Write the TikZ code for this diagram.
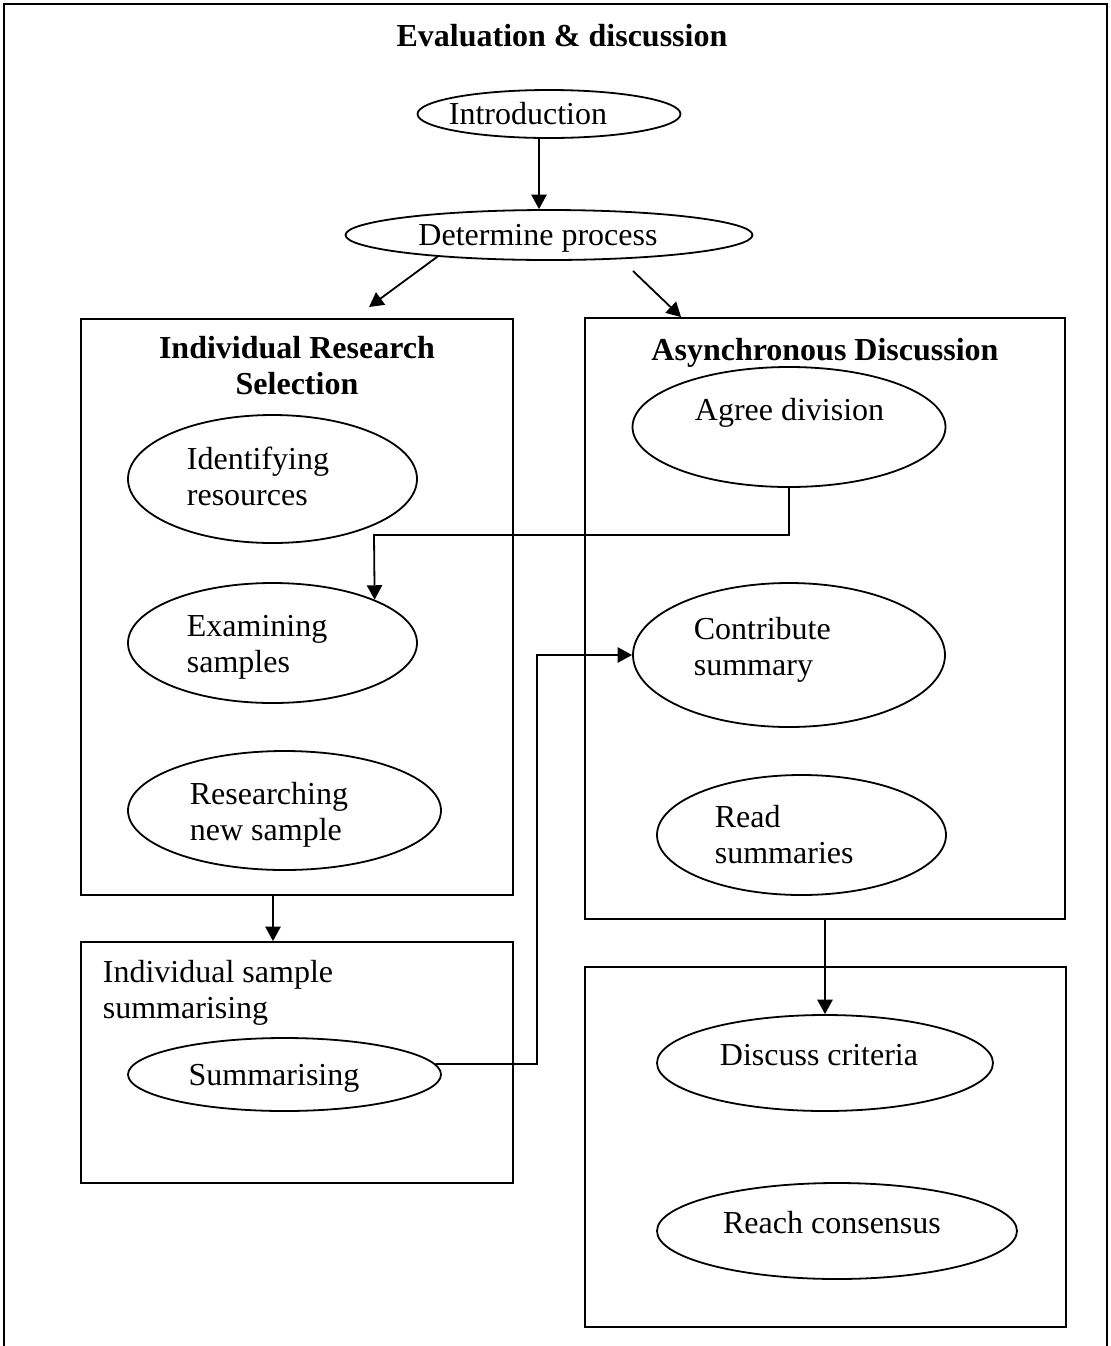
\documentclass[tikz,border=0pt]{standalone}
\usepackage{fontspec}
\setmainfont{Liberation Serif}
\usetikzlibrary{shapes.geometric,arrows.meta,calc}
\begin{document}
\begin{tikzpicture}[x=0.5pt,y=-0.5pt, line width=0.9pt,
  oval/.style={ellipse,draw,inner sep=0pt},
  frame/.style={rectangle,draw,inner sep=0pt},
  arr/.style={-{Triangle[length=7.2pt,width=7.6pt]}},
  lbl/.style={font=\fontsize{16}{18}\selectfont, inner sep=0pt},
  bold/.style={font=\fontsize{16}{18}\selectfont\bfseries, inner sep=0pt}]
\useasboundingbox (0,0) rectangle (1111,1346);
% outer frame (open at the bottom)
\draw[line width=1pt] (4,1346) -- (4,4) -- (1107,4) -- (1107,1346);
\node[bold,anchor=base] (title) at (562,46) {Evaluation \& discussion};

% top ellipses
\node[oval,minimum width=131.5pt,minimum height=24pt] (intro) at (549,114) {};
\node[lbl,anchor=base] (tintro) at (528,124) {Introduction};
\node[oval,minimum width=203.5pt,minimum height=25pt] (det) at (549,235) {};
\node[lbl,anchor=base] (tdet) at (538,245) {Determine process};

% boxes
\node[frame,minimum width=216pt,minimum height=288pt] (boxL) at (297,607) {};
\node[frame,minimum width=216pt,minimum height=120.5pt] (boxS) at (297,1062.5) {};
\node[frame,minimum width=240pt,minimum height=300.5pt] (boxR) at (825,618.5) {};
\node[frame,minimum width=240.5pt,minimum height=180pt] (boxB) at (825.5,1147) {};

% box titles
\node[bold,anchor=base] (tL1) at (297,358) {Individual Research};
\node[bold,anchor=base] (tL2) at (297,394) {Selection};
\node[bold,anchor=base] (tR) at (825,360) {Asynchronous Discussion};
\node[lbl,anchor=base west] (tS1) at (102,982) {Individual sample};
\node[lbl,anchor=base west] (tS2) at (102,1018) {summarising};

% left box ellipses
\node[oval,minimum width=144.5pt,minimum height=64pt] (ident) at (272.5,479) {};
\node[lbl,anchor=base west] (tident1) at (186,469) {Identifying};
\node[lbl,anchor=base west] (tident2) at (186,505) {resources};
\node[oval,minimum width=144.5pt,minimum height=60pt] (exam) at (272.5,643) {};
\node[lbl,anchor=base west] (texam1) at (186,636) {Examining};
\node[lbl,anchor=base west] (texam2) at (186,672) {samples};
\node[oval,minimum width=156.5pt,minimum height=59.5pt] (resrch) at (284.5,810.5) {};
\node[lbl,anchor=base west] (tres1) at (189,804) {Researching};
\node[lbl,anchor=base west] (tres2) at (189,840) {new sample};
\node[oval,minimum width=156.5pt,minimum height=36.5pt] (summ) at (284.5,1074.5) {};
\node[lbl,anchor=base] (tsumm) at (274,1085) {Summarising};

% right box ellipses
\node[oval,minimum width=156.5pt,minimum height=60pt] (agree) at (789,427) {};
\node[lbl,anchor=base west] (tagree) at (694,420) {Agree division};
\node[oval,minimum width=156pt,minimum height=72pt] (contrib) at (789,655) {};
\node[lbl,anchor=base west] (tcon1) at (693,639) {Contribute};
\node[lbl,anchor=base west] (tcon2) at (693,675) {summary};
\node[oval,minimum width=144.5pt,minimum height=60pt] (read) at (801.5,835) {};
\node[lbl,anchor=base west] (tread1) at (714,827) {Read};
\node[lbl,anchor=base west] (tread2) at (714,863) {summaries};

% bottom right ellipses
\node[oval,minimum width=168pt,minimum height=48pt] (discuss) at (825,1063) {};
\node[lbl,anchor=base] (tdisc) at (819,1065) {Discuss criteria};
\node[oval,minimum width=180pt,minimum height=48pt] (reach) at (837,1231) {};
\node[lbl,anchor=base] (treach) at (832,1233) {Reach consensus};

% connectors
\draw[arr] ([xshift=-5pt]intro.south) -- ([xshift=-5pt]det.north);
\coordinate (aL) at (369,307);
\draw[arr] (det.191) -- (aL);
\coordinate (aR) at (633,271);
\draw[arr] (aR) -- ([xshift=48.5pt]boxR.north west);
\draw[arr] ([xshift=-12pt]boxL.south) -- ([xshift=-12pt]boxS.north);
\coordinate (bend1) at (374,535);
\draw[arr] (agree.south) |- (bend1) -- (exam.23);
\coordinate (bend2) at (537,1064);
\draw[arr] (summ.4) -- (bend2) |- (contrib.west);
\draw[arr] (boxR.south) -- (discuss.north);
\end{tikzpicture}
\end{document}
